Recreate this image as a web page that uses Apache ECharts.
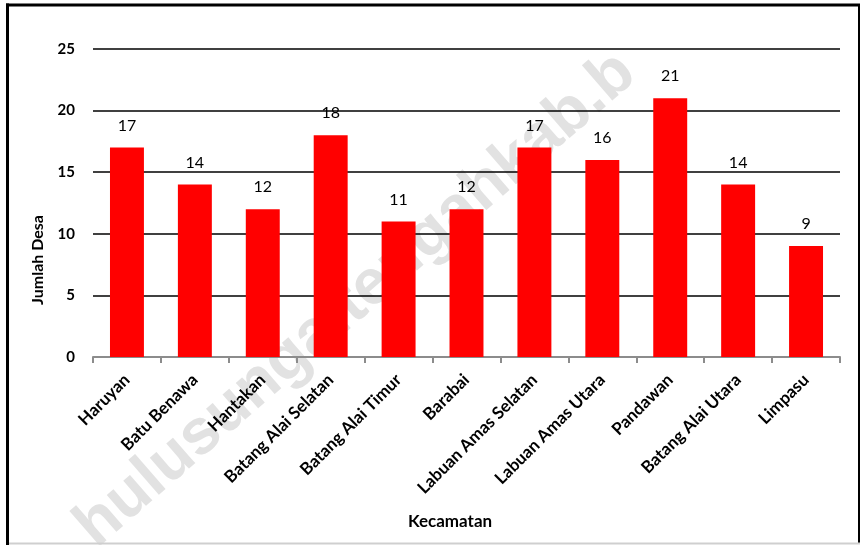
<!DOCTYPE html>
<html>
<head>
<meta charset="utf-8">
<script src="https://cdn.jsdelivr.net/npm/echarts@6/dist/echarts.min.js"></script>
<style>
  html, body { margin: 0; padding: 0; background: #fff; }
  #chart { width: 861px; height: 545px; }
</style>
</head>
<body>
<div id="chart"></div>
<script>
// Jumlah desa per kecamatan
const kecamatan = [
  'Haruyan', 'Batu Benawa', 'Hantakan', 'Batang Alai Selatan', 'Batang Alai Timur',
  'Barabai', 'Labuan Amas Selatan', 'Labuan Amas Utara', 'Pandawan', 'Batang Alai Utara', 'Limpasu'
];
const jumlahDesa = [17, 14, 12, 18, 11, 12, 17, 16, 21, 14, 9];
const yTicks = { min: 0, max: 25, interval: 5 };

const FONT = 'Lato, "Open Sans", sans-serif';

const chart = echarts.init(document.getElementById('chart'), null, { renderer: 'canvas' });

chart.setOption({
  backgroundColor: '#ffffff',
  animation: false,
  grid: { left: 93, right: 21, top: 49, bottom: 188, containLabel: false },
  xAxis: {
    type: 'category',
    data: kecamatan,
    axisLine: { show: true, lineStyle: { color: '#8c8c8c', width: 2 } },
    axisTick: { show: true, length: 6, lineStyle: { color: '#8c8c8c', width: 2 } },
    axisLabel: {
      rotate: 45,
      margin: 20,
      interval: 0,
      color: '#000',
      fontFamily: FONT,
      fontWeight: 'bold',
      fontSize: 17
    },
    splitLine: { show: false }
  },
  yAxis: {
    type: 'value',
    min: yTicks.min,
    max: yTicks.max,
    interval: yTicks.interval,
    axisLine: { show: false },
    axisTick: { show: false },
    axisLabel: {
      margin: 18,
      color: '#000',
      fontFamily: FONT,
      fontWeight: 'bold',
      fontSize: 15
    },
    splitLine: { show: true, lineStyle: { color: '#000', width: 1.6 } }
  },
  series: [{
    type: 'bar',
    data: jumlahDesa,
    barCategoryGap: '50%',
    itemStyle: { color: '#ff0000' },
    label: {
      show: true,
      position: 'top',
      distance: 14,
      color: '#000',
      fontFamily: FONT,
      fontSize: 16
    },
    z: 3
  }],
  graphic: [
    // faint diagonal site watermark behind the plot
    {
      type: 'text',
      z: -1,
      x: 356,
      y: 300,
      rotation: Math.PI * 41 / 180,
      style: {
        text: 'hulusungaitengahkab.b',
        fill: '#e2e2e2',
        font: 'bold 64px "Liberation Sans", Arial, sans-serif',
        textAlign: 'center',
        textVerticalAlign: 'middle'
      }
    },
    {
      type: 'text',
      x: 38,
      y: 260,
      rotation: Math.PI / 2,
      style: {
        text: 'Jumlah Desa',
        fill: '#000',
        font: 'bold 16px ' + FONT,
        textAlign: 'center',
        textVerticalAlign: 'middle'
      }
    },
    {
      type: 'text',
      x: 450,
      y: 522,
      style: {
        text: 'Kecamatan',
        fill: '#000',
        font: 'bold 17px ' + FONT,
        textAlign: 'center',
        textVerticalAlign: 'middle'
      }
    },
    { type: 'line', shape: { x1: 7.5, y1: 3.5, x2: 7.5, y2: 545 }, style: { stroke: '#000', lineWidth: 3 } },
    { type: 'line', shape: { x1: 6, y1: 5, x2: 860, y2: 5 }, style: { stroke: '#000', lineWidth: 3 } },
    { type: 'line', shape: { x1: 859, y1: 4, x2: 859, y2: 543 }, style: { stroke: '#000', lineWidth: 2 } },
    { type: 'line', shape: { x1: 9, y1: 543.5, x2: 860, y2: 543.5 }, style: { stroke: '#cfcfcf', lineWidth: 2 } }
  ]
});
</script>
</body>
</html>
